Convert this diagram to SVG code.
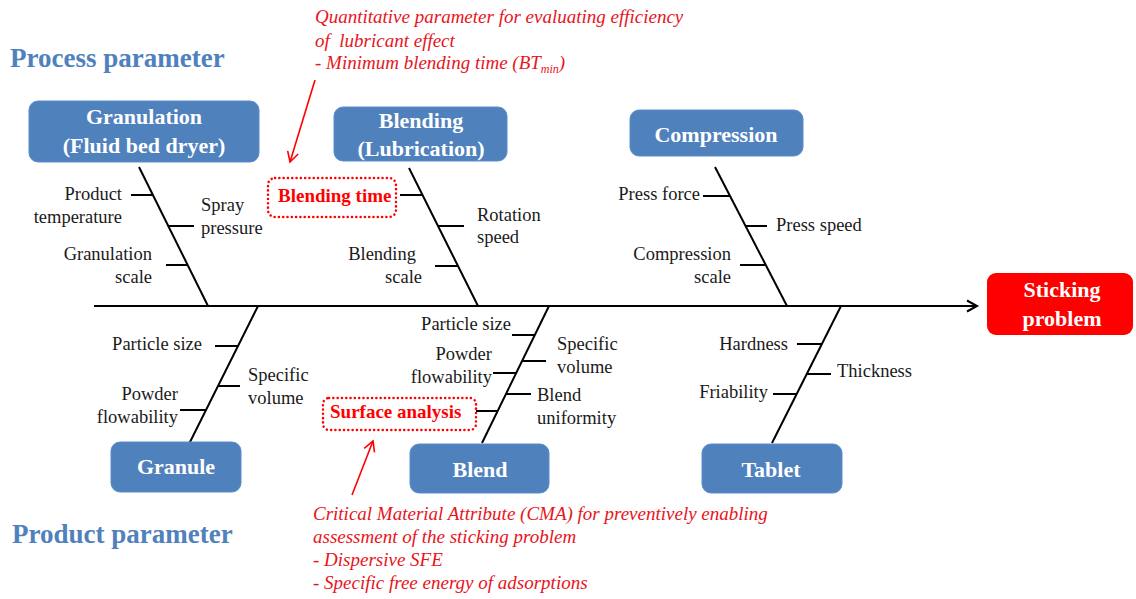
<svg xmlns="http://www.w3.org/2000/svg" width="1136" height="599" viewBox="0 0 1136 599">
<defs>
<style>
.box{fill:#4F81BD;stroke:#5B8DC9;stroke-width:1}
.bt{font-family:'Liberation Serif','Times New Roman',Times,Tinos,'DejaVu Serif',serif;font-weight:bold;font-size:22px;fill:#fff;text-anchor:middle}
.lb{font-family:'Liberation Serif','Times New Roman',Times,Tinos,'DejaVu Serif',serif;font-size:18.5px;fill:#1a1a1a}
.r{text-anchor:end}
.bone{stroke:#000;stroke-width:2;fill:none}
.tick{stroke:#000;stroke-width:2}
.ttl{font-family:'Liberation Serif','Times New Roman',Times,Tinos,'DejaVu Serif',serif;font-weight:bold;font-size:27px;fill:#4F81BD}
.note{font-family:'Liberation Serif','Times New Roman',Times,Tinos,'DejaVu Serif',serif;font-style:italic;font-size:19px;fill:#E8141C;white-space:pre}
.dot{fill:none;stroke:#FF0000;stroke-width:2.5;stroke-dasharray:0.1 4.2;stroke-linecap:round}
.rb{font-family:'Liberation Serif','Times New Roman',Times,Tinos,'DejaVu Serif',serif;font-weight:bold;font-size:19px;fill:#FF0000}
.ra{stroke:#FF0000;stroke-width:1.6;fill:none}
</style>
<marker id="ah" markerWidth="14" markerHeight="14" refX="11" refY="7" orient="auto" markerUnits="userSpaceOnUse">
<path d="M1,1.5 L11,7 L1,12.5" fill="none" stroke="#000" stroke-width="2"/>
</marker>
<marker id="rah" markerWidth="14" markerHeight="14" refX="11" refY="7" orient="auto" markerUnits="userSpaceOnUse">
<path d="M1,1.5 L11,7 L1,12.5" fill="none" stroke="#FF0000" stroke-width="1.6"/>
</marker>
</defs>
<rect width="1136" height="599" fill="#fff"/>

<text class="ttl" x="10" y="67">Process parameter</text>
<text class="ttl" x="12" y="543">Product parameter</text>

<g id="connectors">
<line class="bone" x1="94" y1="306" x2="977" y2="306" stroke-width="2.5" marker-end="url(#ah)"/>
<line class="bone" x1="139" y1="167" x2="208" y2="306"/>
<line class="bone" x1="409" y1="168" x2="478" y2="306"/>
<line class="bone" x1="715" y1="167" x2="787" y2="306"/>
<line class="bone" x1="258" y1="306" x2="188" y2="446"/>
<line class="bone" x1="549" y1="306" x2="482" y2="443"/>
<line class="bone" x1="841" y1="306" x2="772" y2="443"/>
<line class="ra" x1="315" y1="80" x2="290" y2="162" marker-end="url(#rah)"/>
<line class="ra" x1="352" y1="495" x2="373" y2="441" marker-end="url(#rah)"/>
</g>

<g id="granulation">
<rect class="box" x="29" y="101" width="230" height="61" rx="9"/>
<text class="bt" x="144" y="124">Granulation</text>
<text class="bt" x="144" y="153">(Fluid bed dryer)</text>
<line class="tick" x1="131" y1="195" x2="153" y2="195"/>
<line class="tick" x1="168" y1="226" x2="194" y2="226"/>
<line class="tick" x1="166" y1="265" x2="188" y2="265"/>
<text class="lb r" x="122" y="200">Product</text>
<text class="lb r" x="122" y="223">temperature</text>
<text class="lb" x="201" y="211">Spray</text>
<text class="lb" x="201" y="234">pressure</text>
<text class="lb r" x="152" y="260">Granulation</text>
<text class="lb r" x="152" y="283">scale</text>
</g>

<g id="blending">
<rect class="box" x="334" y="107" width="173" height="54" rx="9"/>
<text class="bt" x="421" y="128">Blending</text>
<text class="bt" x="421" y="156">(Lubrication)</text>
<rect class="dot" x="268" y="178" width="128" height="39" rx="7"/>
<text class="rb" x="278" y="202">Blending time</text>
<line class="tick" x1="400" y1="195" x2="423" y2="195"/>
<line class="tick" x1="438" y1="226" x2="464" y2="226"/>
<line class="tick" x1="435" y1="266" x2="458" y2="266"/>
<text class="lb" x="477" y="221">Rotation</text>
<text class="lb" x="477" y="243">speed</text>
<text class="lb r" x="416" y="260">Blending</text>
<text class="lb r" x="422" y="283">scale</text>
</g>

<g id="compression">
<rect class="box" x="630" y="110" width="173" height="46" rx="9"/>
<text class="bt" x="716" y="142">Compression</text>
<line class="tick" x1="703" y1="196" x2="730" y2="196"/>
<line class="tick" x1="746" y1="226" x2="767" y2="226"/>
<line class="tick" x1="740" y1="265" x2="766" y2="265"/>
<text class="lb r" x="700" y="200">Press force</text>
<text class="lb" x="776" y="231">Press speed</text>
<text class="lb r" x="731" y="260">Compression</text>
<text class="lb r" x="731" y="283">scale</text>
</g>

<g id="sticking">
<rect x="987" y="273" width="146" height="62" rx="9" fill="#FF0000"/>
<text class="bt" x="1062" y="297">Sticking</text>
<text class="bt" x="1062" y="326">problem</text>
</g>

<g id="granule">
<rect class="box" x="111" y="442" width="130" height="50" rx="9"/>
<text class="bt" x="176" y="474">Granule</text>
<line class="tick" x1="215" y1="346" x2="238" y2="346"/>
<line class="tick" x1="218" y1="386" x2="240" y2="386"/>
<line class="tick" x1="180" y1="410" x2="206" y2="410"/>
<text class="lb r" x="202" y="350">Particle size</text>
<text class="lb" x="248" y="381">Specific</text>
<text class="lb" x="248" y="404">volume</text>
<text class="lb r" x="178" y="400">Powder</text>
<text class="lb r" x="178" y="423">flowability</text>
</g>

<g id="blend">
<rect class="box" x="410" y="444" width="139" height="49" rx="9"/>
<text class="bt" x="480" y="477">Blend</text>
<rect class="dot" x="323" y="398" width="153" height="32" rx="6"/>
<text class="rb" x="330" y="418">Surface analysis</text>
<line class="tick" x1="512" y1="335" x2="535" y2="335"/>
<line class="tick" x1="522" y1="361" x2="546" y2="361"/>
<line class="tick" x1="493" y1="373" x2="517" y2="373"/>
<line class="tick" x1="506" y1="394" x2="531" y2="394"/>
<line class="tick" x1="476" y1="411" x2="498" y2="411"/>
<text class="lb r" x="511" y="330">Particle size</text>
<text class="lb" x="557" y="350">Specific</text>
<text class="lb" x="557" y="373">volume</text>
<text class="lb r" x="492" y="360">Powder</text>
<text class="lb r" x="492" y="383">flowability</text>
<text class="lb" x="537" y="401">Blend</text>
<text class="lb" x="537" y="424">uniformity</text>
</g>

<g id="tablet">
<rect class="box" x="702" y="444" width="140" height="49" rx="9"/>
<text class="bt" x="771" y="477">Tablet</text>
<line class="tick" x1="797" y1="344" x2="822" y2="344"/>
<line class="tick" x1="807" y1="374" x2="831" y2="374"/>
<line class="tick" x1="773" y1="394" x2="797" y2="394"/>
<text class="lb r" x="788" y="350">Hardness</text>
<text class="lb" x="837" y="377">Thickness</text>
<text class="lb r" x="768" y="398">Friability</text>
</g>

<g id="note-top">
<text class="note" x="315" y="23">Quantitative parameter for evaluating efficiency</text>
<text class="note" x="315" y="47" xml:space="preserve">of  lubricant effect</text>
<text class="note" x="315" y="69">- Minimum blending time (BT<tspan font-size="12" dy="4">min</tspan><tspan dy="-4">)</tspan></text>
</g>

<g id="note-bottom">
<text class="note" x="313" y="520">Critical Material Attribute (CMA) for preventively enabling</text>
<text class="note" x="313" y="543">assessment of the sticking problem</text>
<text class="note" x="313" y="566">- Dispersive SFE</text>
<text class="note" x="313" y="589">- Specific free energy of adsorptions</text>
</g>
</svg>
